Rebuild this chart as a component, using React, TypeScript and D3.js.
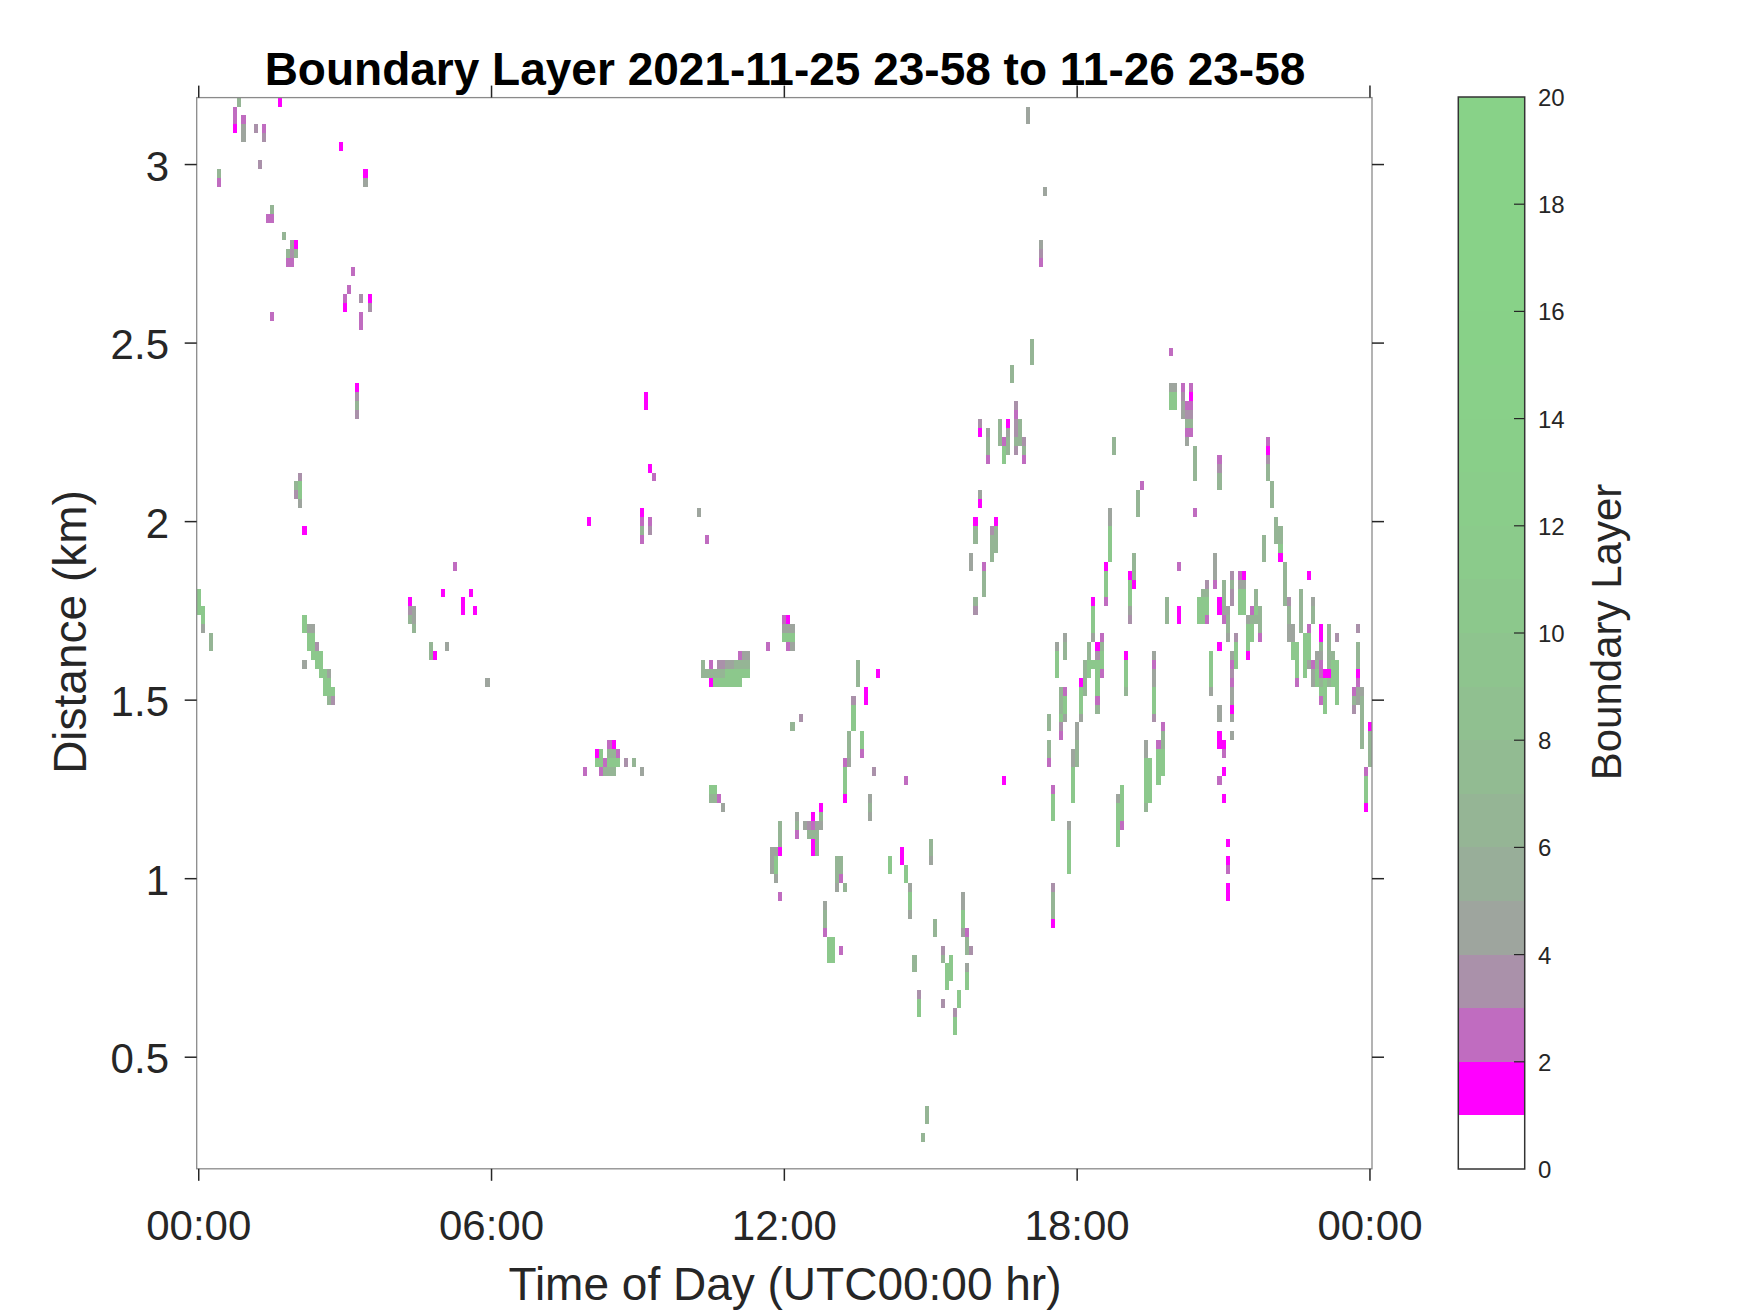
import React from "react";
import * as d3 from "d3";

// Each echo: [5-minute time step, range gate counted from the top, colour classes going down]
type Echo = [number, number, string];

const echoes00to06: Echo[] = [
  [0,55,"GGG"],[1,57,"GGS"],[3,60,"AA"],[5,8,"AP"],[9,1,"PPM"],[10,0,"A"],[11,2,"PSS"],[14,3,"H"],[15,7,"H"],[16,3,"PH"],
  [17,13,"P"],[18,12,"AP"],[18,24,"P"],[20,0,"M"],[21,15,"A"],[22,17,"AP"],[23,16,"SHP"],[24,16,"MA"],[24,43,"AH"],[25,42,"HGGS"],
  [26,48,"M"],[26,58,"GG"],[26,63,"S"],[27,59,"SGG"],[28,59,"SGGG"],[29,61,"HGG"],[30,62,"GGG"],[31,64,"GGG"],[32,64,"SGGA"],[33,66,"GH"],
  [35,5,"M"],[36,22,"PM"],[37,21,"P"],[38,19,"P"],[39,32,"MHAH"],[40,22,"H"],[40,24,"PP"],[41,8,"MS"],[42,22,"MH"],
  [52,56,"MHA"],[53,57,"SSA"],[57,61,"AA"],[58,62,"M"],[60,55,"M"],[61,61,"S"],[63,52,"P"],[65,56,"MM"],[67,55,"M"],[68,57,"M"],[71,65,"S"],
];

const echoes06to12: Echo[] = [
  [95,75,"P"],[96,47,"M"],[98,73,"MG"],[99,73,"GGP"],[100,74,"PA"],[101,72,"PAGA"],[102,72,"MAGA"],[103,73,"PG"],[105,74,"H"],[107,74,"A"],[109,75,"S"],
  [109,46,"MPAP"],[110,33,"MM"],[111,41,"M"],[111,47,"PH"],[112,42,"P"],[123,46,"S"],[125,49,"P"],
  [124,63,"AA"],[125,64,"A"],[126,63,"PAM"],[127,64,"AG"],[128,63,"HAG"],[129,63,"HAG"],[130,63,"SGG"],[131,63,"SGG"],[132,63,"AGG"],[133,62,"PAGG"],[134,62,"SAG"],[135,62,"SAG"],
  [126,77,"GA"],[127,77,"GA"],[128,78,"P"],[129,79,"S"],[140,61,"P"],[141,84,"SSS"],[142,84,"SGGS"],[143,81,"AAAM"],[143,89,"P"],
];

const echoes12to18: Echo[] = [
  [144,58,"PSG"],[145,58,"MSGP"],[146,59,"SGS"],[147,80,"SAP"],[148,69,"H"],[146,70,"A"],[149,81,"S"],[150,81,"HA"],[151,80,"MPAMM"],[152,81,"SAAA"],
  [153,79,"MAS"],[154,90,"SAAP"],[155,94,"GGG"],[156,94,"GGG"],[158,95,"P"],[157,85,"AAAS"],[158,85,"AAP"],[159,74,"PGGGM"],[159,88,"A"],[160,71,"AAAS"],[161,67,"HGGG"],
  [162,63,"AAA"],[163,71,"GGP"],[164,66,"MM"],[165,78,"SAS"],[166,75,"H"],[167,64,"M"],[170,85,"GG"],[173,84,"MM"],[174,76,"P"],[174,86,"GG"],
  [175,88,"SGGS"],[176,96,"AA"],[177,100,"HGG"],[178,116,"A"],[179,113,"AA"],[180,83,"AAS"],[181,92,"AA"],[183,95,"HA"],[183,101,"H"],[184,97,"GGG"],
  [185,96,"GGG"],[186,102,"HGG"],[187,100,"GG"],[188,89,"SSGGS"],[189,93,"PAA"],[189,97,"SGG"],[190,95,"H"],[190,51,"SS"],[191,47,"MAA"],[191,56,"AH"],
  [192,36,"HM"],[192,44,"SM"],[193,52,"PAAA"],[194,37,"SAAP"],[195,48,"HAAA"],[196,47,"MAAA"],[197,36,"AAA"],[198,38,"PGG"],[198,76,"M"],[199,36,"MSAA"],
  [200,30,"AA"],[201,34,"HPHHAH"],[202,36,"AAA"],[203,38,"HAP"],[204,1,"SS"],[205,27,"AAA"],[207,16,"SHP"],[208,10,"S"],[209,69,"AA"],[209,72,"AAP"],
  [210,77,"PGGG"],[210,88,"HAAAM"],[211,61,"SGGG"],[212,66,"AAAGHP"],[213,60,"SAA"],[213,66,"PGGS"],[214,81,"SGGGGG"],[215,73,"SSGGGG"],
];

const echoes18to24: Echo[] = [
  [216,70,"SSAAA"],[217,65,"MGGGS"],[218,63,"AAAA"],[219,61,"AAGG"],[220,56,"MGGGS"],[220,63,"G"],[221,61,"MHGGGGPA"],[222,60,"PAGGP"],[223,52,"MGGGP"],
  [224,46,"SSGGGG"],[225,38,"AA"],[226,78,"SGGGGG"],[227,77,"GGGGP"],[228,62,"MGGGA"],[229,53,"MGGGSH"],[230,51,"AAAM"],[231,44,"AAA"],[232,43,"P"],
  [233,72,"SSGGGGGA"],[234,74,"GGGGG"],[235,62,"SPSSGGGH"],[236,72,"PGGGG"],[237,70,"PAAGGG"],[238,56,"AAA"],[239,32,"SGG"],[239,28,"P"],[240,32,"SGG"],
  [241,52,"P"],[241,57,"MM"],[242,32,"PHSS"],[243,34,"PHAPS"],[244,32,"PMPHAP"],[245,39,"AAAA"],[245,46,"P"],[246,56,"GGG"],[247,55,"AGGG"],[248,54,"HAGGP"],
  [249,62,"GGGGS"],[250,51,"SSSP"],[251,40,"PHAA"],[251,56,"MM"],[251,61,"M"],[251,68,"SS"],[251,71,"MM"],[251,76,"P"],[252,54,"AAASP"],[252,72,"MP"],
  [252,75,"M"],[252,78,"M"],[253,57,"SAAS"],[253,83,"M"],[253,85,"MP"],[253,88,"MM"],[254,53,"HAHH"],[254,62,"SPHPSSMS"],[254,71,"S"],[255,60,"HGGG"],
  [256,53,"PSGGG"],[257,53,"MSGGG"],[258,58,"SGGGM"],[259,57,"PAGG"],[260,55,"AAGA"],[261,57,"AAAP"],[262,49,"AAA"],[263,38,"PMHAA"],[264,43,"AAA"],
  [265,47,"AAA"],[266,48,"AAGM"],[267,52,"AAAAA"],[268,56,"HAASS"],[269,59,"SSGG"],[270,61,"GGGGP"],[271,55,"AAAAA"],[272,60,"GGGGG"],[273,53,"M"],
  [273,59,"PGGGS"],[274,56,"SAA"],[274,63,"PSS"],[275,62,"SAGG"],[276,59,"MMASPPAGP"],[277,64,"MGGGG"],[278,59,"AAAAAMA"],[279,62,"AGGG"],[280,60,"H"],
  [280,63,"GGGGG"],[284,66,"PAH"],[285,59,"H"],[285,61,"AAAMPSS"],[286,66,"SAAAAAA"],[287,75,"PGGGM"],[288,70,"MAAAA"],
];

const classValues: Record<string, number> = { M: 1.5, P: 2.5, H: 3.5, S: 4.5, A: 6.5, G: 10.5 };
const levelColors = ["#ffffff","#ff00ff","#c06cc0","#aa91aa","#9ea59e","#98ae99","#95b595","#92bb92","#90c090","#8ec48e","#8cc88c","#8bcb8b","#8acd8a","#89cf89","#89d089","#88d188","#88d288","#88d288","#88d288","#88d288"];
const timeTicks = [0, 6, 12, 18, 24];
const timeLabels = ["00:00", "06:00", "12:00", "18:00", "00:00"];
const distanceTicks = [0.5, 1, 1.5, 2, 2.5, 3];
const colorbarTicks = [0, 2, 4, 6, 8, 10, 12, 14, 16, 18, 20];
const title = "Boundary Layer 2021-11-25 23-58 to 11-26 23-58";

const gateKm = 0.025, stepHr = 5 / 60, topKm = 3.1875;
const TXT = "#262626";
const FONT = "'Liberation Sans', Arial, sans-serif";

export default function App() {
  const x = d3.scaleLinear().domain([-stepHr / 2, 24 + stepHr / 2]).range([196.7, 1372]);
  const y = d3.scaleLinear().domain([topKm - 120 * gateKm, topKm]).range([1168.8, 97.6]);
  const cb = d3.scaleLinear().domain([0, 20]).range([1169, 97]);
  const [L, R] = x.range();
  const [B, T] = y.range();
  const cw = x(stepHr) - x(0);
  const ch = y(0) - y(gateKm);
  const cells = [...echoes00to06, ...echoes06to12, ...echoes12to18, ...echoes18to24].flatMap(([t, g, s]) =>
    s.split("").map((c, i) => ({ t: t * stepHr, km: topKm - (g + i) * gateKm, v: classValues[c] }))
  );
  const color = (v: number) => levelColors[Math.min(19, Math.floor(v))];

  return (
    <svg width={1750} height={1313} style={{ position: "absolute", left: 0, top: 0, background: "#fff" }} fontFamily={FONT}>
      {cells.map((c, i) => (
        <rect key={i} x={x(c.t) - cw / 2} y={y(c.km)} width={cw} height={ch} fill={color(c.v)} shapeRendering="crispEdges" />
      ))}
      <rect x={L} y={T} width={R - L} height={B - T} fill="none" stroke="#8a8a8a" strokeWidth={1.3} />
      {timeTicks.map((t, i) => (
        <g key={i} stroke={TXT} strokeWidth={1.5}>
          <line x1={x(t)} x2={x(t)} y1={B} y2={B + 12} />
          <line x1={x(t)} x2={x(t)} y1={T} y2={T - 12} />
        </g>
      ))}
      {distanceTicks.map((d) => (
        <g key={d} stroke={TXT} strokeWidth={1.5}>
          <line x1={L} x2={L - 12} y1={y(d)} y2={y(d)} />
          <line x1={R} x2={R + 12} y1={y(d)} y2={y(d)} />
        </g>
      ))}
      {timeTicks.map((t, i) => (
        <text key={i} x={x(t)} y={1240} textAnchor="middle" fontSize={42} fill={TXT}>{timeLabels[i]}</text>
      ))}
      {distanceTicks.map((d) => (
        <text key={d} x={169} y={y(d) + 16} textAnchor="end" fontSize={42} fill={TXT}>{d}</text>
      ))}
      <text x={785} y={85} textAnchor="middle" fontSize={46} fontWeight="bold" fill="#000">{title}</text>
      <text x={785} y={1300} textAnchor="middle" fontSize={46} fill={TXT}>Time of Day (UTC00:00 hr)</text>
      <text transform="translate(86,632) rotate(-90)" textAnchor="middle" fontSize={46} fill={TXT}>Distance (km)</text>

      {levelColors.map((c, i) => (
        <rect key={i} x={1458.3} y={cb(i + 1)} width={66.4} height={cb(i) - cb(i + 1)} fill={c} shapeRendering="crispEdges" />
      ))}
      <rect x={1458.3} y={97} width={66.4} height={1169 - 97} fill="none" stroke="#333" strokeWidth={1.5} />
      {colorbarTicks.map((t) => (
        <g key={t}>
          {t > 0 && t < 20 && <line x1={1514} x2={1524.7} y1={cb(t)} y2={cb(t)} stroke={TXT} strokeWidth={1.2} />}
          <text x={1538} y={cb(t) + 9} fontSize={24} fill={TXT}>{t}</text>
        </g>
      ))}
      <text transform="translate(1621,632) rotate(-90)" textAnchor="middle" fontSize={42} fill={TXT}>Boundary Layer</text>
    </svg>
  );
}
